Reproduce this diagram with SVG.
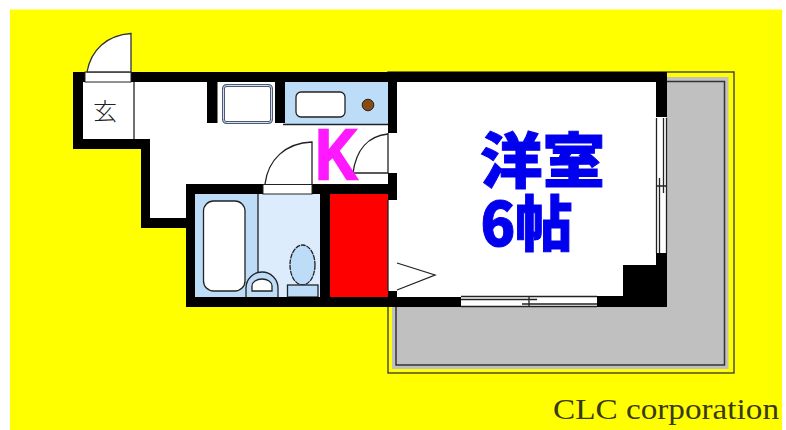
<svg xmlns="http://www.w3.org/2000/svg" width="786" height="430" viewBox="0 0 786 430">
<style>
.wall{fill:#000}
.ln{fill:none;stroke:#222;stroke-width:1.300}
.sh{stroke:#222;stroke-width:1.300}
.blue{fill:#bcdcf8}
.white{fill:#fff}
.jp{font-family:"Noto Sans CJK JP","Noto Sans",sans-serif;font-weight:900;fill:#0000ee;stroke:#0000ee;stroke-width:1}
</style>
<rect width="786" height="430" fill="#fff"/>
<rect x="10" y="9.500" width="772" height="420.500" fill="#ff0"/>
<g id="balcony">
<rect x="388" y="72" width="346" height="301" fill="#ff0" stroke="#333" stroke-width="1.300"/>
<rect x="392" y="77" width="336.500" height="292" fill="#c0c0c0"/>
<rect x="396" y="81.500" width="328.500" height="283.500" fill="#c0c0c0" stroke="#333" stroke-width="1.500"/>
</g>
<g id="floor">
<path d="M73 72H666V306H187V228H141V149H73Z" fill="#fff"/>
</g>
<g id="bath">
<rect x="194" y="194" width="126" height="103" fill="#dcecfd"/>
<rect x="194" y="194" width="64" height="103" class="blue"/>
<rect x="203.500" y="201" width="41.500" height="90" rx="10" class="white sh"/>
<path d="M258 194V274" class="ln"/>
<path d="M246 297V288a16 16 0 0 1 32 0V297" class="blue sh"/>
<path d="M252 291V286a10 7 0 0 1 20 0V291Z" class="white sh"/>
<ellipse cx="302.500" cy="265" rx="12.500" ry="20" class="blue sh" stroke-dasharray="5 0.800"/>
<rect x="287.500" y="285" width="30.500" height="12" class="blue sh"/>
</g>
<g id="closet"><rect x="330" y="194" width="58" height="103" fill="#f00"/></g>
<g id="kitchen">
<rect x="285" y="82" width="103" height="42" class="blue"/>
<path d="M283 124.500H388" class="ln"/>
<rect x="296" y="92" width="49" height="25" rx="5" class="white sh"/>
<circle cx="368" cy="105" r="5.800" fill="#8b4a10" stroke="#222" stroke-width="1"/>
</g>
<g id="sink">
<rect x="223.500" y="85.500" width="48" height="37" rx="3" fill="#fff" stroke="#4a5a78" stroke-width="3"/>
<rect x="223.500" y="85.500" width="48" height="37" rx="3" fill="none" stroke="#d5dde8" stroke-width="1"/>
</g>
<g id="walls" class="wall">
<path d="M73 72H132V82H83V139H150V218H187V228H141V149H73Z"/>
<rect x="132" y="72" width="535" height="10"/>
<rect x="207" y="82" width="10.500" height="41"/>
<rect x="275" y="82" width="10" height="41"/>
<rect x="388" y="82" width="9" height="51"/>
<rect x="388" y="173" width="9" height="27"/>
<rect x="186" y="184" width="77" height="10"/>
<rect x="312" y="184" width="76" height="10"/>
<rect x="186" y="184" width="9" height="123"/>
<rect x="320" y="194" width="10" height="103"/>
<rect x="186" y="297" width="275" height="10"/>
<rect x="388" y="291" width="9" height="6"/>
<rect x="597" y="296" width="70" height="11"/>
<rect x="623" y="265" width="44" height="42"/>
<rect x="656" y="82" width="11" height="35"/>
<rect x="656" y="253" width="11" height="15"/>
</g>
<g id="entrance">
<rect x="85" y="72" width="46" height="10" fill="#fff" stroke="#222" stroke-width="1"/>
<path d="M131 72V33.500C107 35 91 50 87 72Z" fill="#fff" stroke="#333" stroke-width="1.300"/>
<path d="M134 82V139" class="ln"/>
<text x="105" y="120" font-family="'Noto Sans CJK JP',sans-serif" font-weight="300" font-size="24" text-anchor="middle" fill="#222">玄</text>
</g>
<g id="doors">
<rect x="263" y="184.500" width="49" height="9.500" fill="#fff" stroke="#222" stroke-width="1"/>
<path d="M312 184V142C285 143 268 160 265 184" fill="#fff" stroke="#222" stroke-width="1.300"/>
<rect x="388" y="133" width="9" height="40" fill="#fff"/>
<path d="M388 134C368 136 356 150 353 173H388" fill="#fff" stroke="#222" stroke-width="1.300"/>
<path d="M388 133V173" class="ln"/>
<rect x="388" y="200" width="9" height="91" fill="#fff"/>
<path d="M388 200V291" class="ln"/>
<path d="M397 263L435 275L397 290" fill="#fff" stroke="#222" stroke-width="1.300"/>
</g>
<g id="windows">
<rect x="656.500" y="118" width="10" height="135" fill="#fff"/>
<path d="M656.500 118V253M666.500 118V253M663.500 118V193M659.500 178V253M656 186H666" class="ln"/>
<rect x="461" y="297" width="136" height="10" fill="#fff"/>
<path d="M461 296.500H597M461 306.500H597M461 299.500H537M522 304H597M529 297V307" class="ln"/>
</g>
<g id="labels">
<text x="336.500" y="179" font-family="'Liberation Sans',sans-serif" font-weight="700" font-size="70" text-anchor="middle" fill="#ff19ff" stroke="#ff19ff" stroke-width="2.500" textLength="42" lengthAdjust="spacingAndGlyphs">K</text>
<text class="jp" x="542.500" y="183" font-size="60" text-anchor="middle" textLength="125" lengthAdjust="spacingAndGlyphs">洋室</text>
<text class="jp" x="526.500" y="246" font-size="60" text-anchor="middle" textLength="92" lengthAdjust="spacingAndGlyphs">6帖</text>
<text x="553" y="419" font-family="'Liberation Serif',serif" font-size="30" fill="#3a3a10" textLength="226" lengthAdjust="spacingAndGlyphs">CLC corporation</text>
</g>
</svg>
